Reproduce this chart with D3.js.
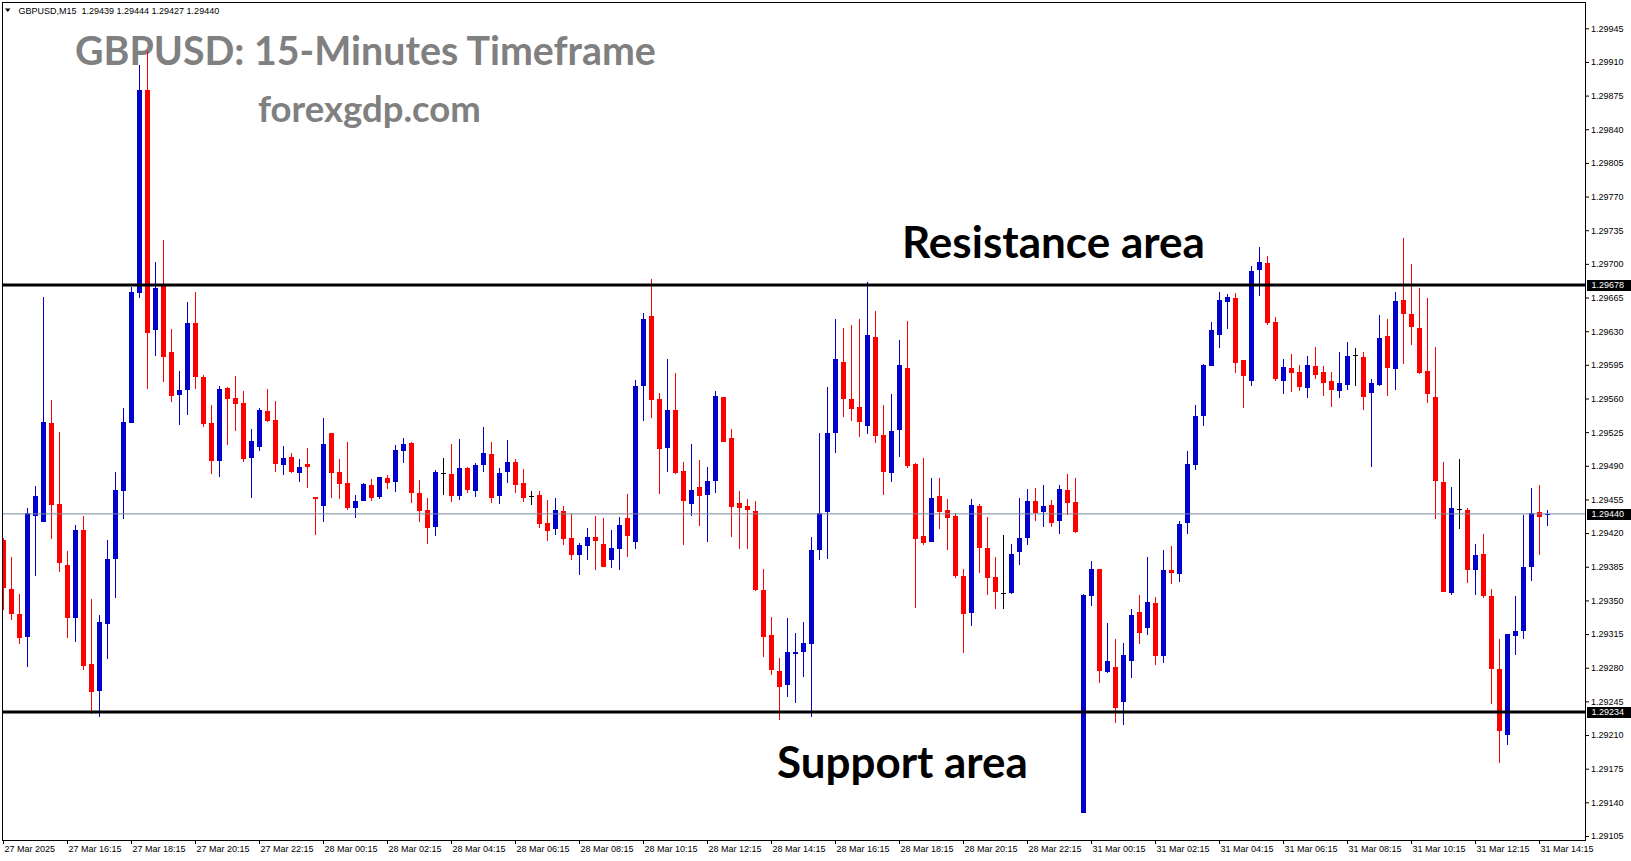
<!DOCTYPE html>
<html><head><meta charset="utf-8">
<script src="https://cdn.jsdelivr.net/npm/d3@7"></script>
<style>body{margin:0;background:#fff;overflow:hidden}svg{display:block}</style>
</head><body><svg id="c" width="1631" height="861"></svg>
<script>
// ---------- DATA (GBPUSD M15, 27 Mar 14:15 -> 31 Mar 14:30) ----------
const opens = [1.29413,1.29362,1.29336,1.29312,1.29438,1.29432,1.29534,1.29450,1.29387,1.29332,
1.29423,1.29284,1.29256,1.29325,1.29393,1.29464,1.29534,1.29670,1.29881,1.29631,
1.29677,1.29608,1.29564,1.29569,1.29638,1.29582,1.29535,1.29495,1.29571,1.29561,
1.29555,1.29498,1.29510,1.29547,1.29538,1.29491,1.29499,1.29483,1.29492,1.29458,
1.29448,1.29524,1.29484,1.29472,1.29446,1.29453,1.29470,1.29458,1.29477,1.29473,
1.29505,1.29514,1.29462,1.29444,1.29426,1.29482,1.29481,1.29459,1.29488,1.29464,
1.29491,1.29502,1.29459,1.29484,1.29494,1.29472,1.29459,1.29460,1.29431,1.29424,
1.29443,1.29415,1.29397,1.29407,1.29416,1.29409,1.29392,1.29403,1.29436,1.29411,
1.29573,1.29646,1.29559,1.29509,1.29548,1.29485,1.29450,1.29468,1.29460,1.29474,
1.29562,1.29519,1.29451,1.29448,1.29443,1.29361,1.29314,1.29277,1.29262,1.29294,
1.29296,1.29305,1.29402,1.29442,1.29524,1.29598,1.29559,1.29551,1.29531,1.29624,
1.29522,1.29483,1.29527,1.29592,1.29492,1.29417,1.29411,1.29459,1.29444,1.29438,
1.29375,1.29337,1.29448,1.29404,1.29374,1.29358,1.29358,1.29400,1.29415,1.29453,
1.29442,1.29449,1.29433,1.29465,1.29452,1.29129,1.29355,1.29383,1.29276,1.29281,
1.29244,1.29287,1.29338,1.29321,1.29347,1.29292,1.29382,1.29377,1.29430,1.29491,
1.29542,1.29594,1.29626,1.29660,1.29664,1.29600,1.29578,1.29694,1.29701,1.29640,
1.29578,1.29592,1.29588,1.29571,1.29594,1.29588,1.29578,1.29568,1.29574,1.29605,
1.29603,1.29566,1.29574,1.29625,1.29591,1.29662,1.29648,1.29633,1.29589,1.29562,
1.29473,1.29358,1.29445,1.29444,1.29382,1.29398,1.29355,1.29279,1.29210,1.29313,
1.29318,1.29385,1.29442,1.29439];
const highs = [1.29415,1.29395,1.29357,1.29446,1.29469,1.29666,1.29558,1.29525,1.29401,1.29428,
1.29438,1.29351,1.29335,1.29413,1.29484,1.29550,1.29676,1.29907,1.29921,1.29702,
1.29725,1.29632,1.29589,1.29660,1.29671,1.29584,1.29553,1.29573,1.29572,1.29583,
1.29568,1.29528,1.29550,1.29570,1.29557,1.29511,1.29503,1.29497,1.29508,1.29458,
1.29540,1.29524,1.29497,1.29515,1.29460,1.29472,1.29476,1.29478,1.29480,1.29512,
1.29519,1.29515,1.29475,1.29457,1.29486,1.29498,1.29513,1.29518,1.29489,1.29493,
1.29530,1.29515,1.29488,1.29517,1.29497,1.29487,1.29464,1.29464,1.29454,1.29456,
1.29448,1.29440,1.29410,1.29425,1.29438,1.29436,1.29423,1.29437,1.29461,1.29579,
1.29649,1.29684,1.29566,1.29601,1.29586,1.29494,1.29513,1.29496,1.29489,1.29568,
1.29562,1.29528,1.29464,1.29455,1.29453,1.29383,1.29333,1.29290,1.29332,1.29316,
1.29328,1.29416,1.29524,1.29572,1.29643,1.29633,1.29636,1.29643,1.29681,1.29651,
1.29553,1.29565,1.29621,1.29641,1.29493,1.29498,1.29477,1.29477,1.29455,1.29441,
1.29383,1.29455,1.29450,1.29437,1.29395,1.29418,1.29409,1.29456,1.29466,1.29467,
1.29470,1.29454,1.29470,1.29481,1.29477,1.29357,1.29391,1.29383,1.29327,1.29310,
1.29306,1.29341,1.29356,1.29395,1.29354,1.29402,1.29407,1.29433,1.29505,1.29553,
1.29596,1.29640,1.29671,1.29669,1.29670,1.29600,1.29698,1.29718,1.29708,1.29645,
1.29601,1.29606,1.29595,1.29604,1.29614,1.29594,1.29588,1.29608,1.29619,1.29613,
1.29608,1.29580,1.29647,1.29643,1.29671,1.29727,1.29700,1.29675,1.29664,1.29614,
1.29494,1.29468,1.29497,1.29446,1.29409,1.29419,1.29362,1.29310,1.29315,1.29355,
1.29439,1.29467,1.29470,1.29444];
const lows = [1.29340,1.29330,1.29305,1.29281,1.29375,1.29432,1.29414,1.29380,1.29311,1.29307,
1.29278,1.29232,1.29229,1.29289,1.29352,1.29435,1.29534,1.29664,1.29570,1.29604,
1.29577,1.29556,1.29532,1.29543,1.29570,1.29530,1.29481,1.29478,1.29512,1.29526,
1.29494,1.29457,1.29505,1.29536,1.29484,1.29480,1.29483,1.29473,1.29467,1.29418,
1.29432,1.29456,1.29455,1.29444,1.29436,1.29453,1.29453,1.29455,1.29466,1.29463,
1.29493,1.29451,1.29432,1.29409,1.29417,1.29460,1.29452,1.29454,1.29462,1.29458,
1.29484,1.29451,1.29450,1.29472,1.29462,1.29452,1.29449,1.29425,1.29412,1.29418,
1.29408,1.29392,1.29376,1.29392,1.29382,1.29385,1.29384,1.29382,1.29395,1.29403,
1.29537,1.29540,1.29461,1.29484,1.29481,1.29408,1.29438,1.29427,1.29411,1.29462,
1.29515,1.29416,1.29403,1.29403,1.29360,1.29291,1.29272,1.29226,1.29250,1.29243,
1.29270,1.29229,1.29392,1.29393,1.29503,1.29541,1.29537,1.29520,1.29523,1.29514,
1.29460,1.29473,1.29499,1.29488,1.29342,1.29408,1.29411,1.29424,1.29402,1.29373,
1.29295,1.29323,1.29378,1.29356,1.29341,1.29341,1.29357,1.29387,1.29408,1.29433,
1.29426,1.29426,1.29419,1.29439,1.29420,1.29129,1.29344,1.29264,1.29275,1.29223,
1.29220,1.29269,1.29305,1.29314,1.29283,1.29285,1.29367,1.29369,1.29419,1.29486,
1.29531,1.29594,1.29613,1.29632,1.29587,1.29550,1.29573,1.29667,1.29636,1.29578,
1.29565,1.29567,1.29568,1.29561,1.29580,1.29563,1.29551,1.29561,1.29569,1.29573,
1.29548,1.29489,1.29573,1.29563,1.29569,1.29596,1.29616,1.29585,1.29555,1.29435,
1.29359,1.29356,1.29424,1.29368,1.29356,1.29353,1.29242,1.29181,1.29200,1.29293,
1.29310,1.29370,1.29397,1.29427];
const closes = [1.29363,1.29336,1.29311,1.29441,1.29459,1.29536,1.29449,1.29389,1.29332,1.29423,
1.29282,1.29255,1.29328,1.29393,1.29465,1.29536,1.29671,1.29881,1.29628,1.29675,
1.29603,1.29563,1.29569,1.29638,1.29582,1.29533,1.29495,1.29570,1.29559,1.29554,
1.29497,1.29516,1.29548,1.29537,1.29492,1.29498,1.29484,1.29489,1.29489,1.29455,
1.29513,1.29483,1.29471,1.29446,1.29453,1.29471,1.29456,1.29478,1.29472,1.29506,
1.29513,1.29462,1.29443,1.29425,1.29484,1.29482,1.29459,1.29488,1.29465,1.29491,
1.29503,1.29456,1.29483,1.29494,1.29470,1.29457,1.29459,1.29429,1.29422,1.29444,
1.29414,1.29397,1.29408,1.29416,1.29412,1.29385,1.29404,1.29428,1.29417,1.29573,
1.29643,1.29558,1.29507,1.29548,1.29483,1.29453,1.29465,1.29459,1.29474,1.29563,
1.29515,1.29447,1.29446,1.29444,1.29361,1.29312,1.29278,1.29260,1.29296,1.29296,
1.29306,1.29402,1.29441,1.29524,1.29601,1.29559,1.29549,1.29536,1.29626,1.29521,
1.29484,1.29526,1.29595,1.29490,1.29414,1.29410,1.29457,1.29442,1.29436,1.29375,
1.29336,1.29449,1.29405,1.29373,1.29359,1.29358,1.29398,1.29415,1.29453,1.29441,
1.29448,1.29430,1.29466,1.29451,1.29421,1.29356,1.29383,1.29277,1.29287,1.29238,
1.29293,1.29335,1.29316,1.29348,1.29292,1.29382,1.29379,1.29429,1.29492,1.29542,
1.29595,1.29631,1.29662,1.29666,1.29597,1.29583,1.29693,1.29702,1.29638,1.29580,
1.29593,1.29587,1.29572,1.29595,1.29584,1.29576,1.29569,1.29576,1.29604,1.29605,
1.29562,1.29576,1.29623,1.29592,1.29661,1.29648,1.29634,1.29587,1.29565,1.29474,
1.29359,1.29446,1.29445,1.29382,1.29397,1.29355,1.29279,1.29214,1.29315,1.29318,
1.29385,1.29441,1.29437,1.29440];

const xTickLabels = ["27 Mar 2025","27 Mar 16:15","27 Mar 18:15","27 Mar 20:15","27 Mar 22:15",
"28 Mar 00:15","28 Mar 02:15","28 Mar 04:15","28 Mar 06:15","28 Mar 08:15","28 Mar 10:15",
"28 Mar 12:15","28 Mar 14:15","28 Mar 16:15","28 Mar 18:15","28 Mar 20:15","28 Mar 22:15",
"31 Mar 00:15","31 Mar 02:15","31 Mar 04:15","31 Mar 06:15","31 Mar 08:15","31 Mar 10:15",
"31 Mar 12:15","31 Mar 14:15"];
const xTickIndex = [0,8,16,24,32,40,48,56,64,72,80,88,96,104,112,120,128,136,144,152,160,168,176,184,192];
const yTickValues = [1.29105,1.29140,1.29175,1.29210,1.29245,1.29280,1.29315,1.29350,1.29385,1.29420,
1.29455,1.29490,1.29525,1.29560,1.29595,1.29630,1.29665,1.29700,1.29735,1.29770,1.29805,1.29840,
1.29875,1.29910,1.29945];
const yExtent = [1.290998, 1.299713];
const resistanceLevel = 1.29678;
const supportLevel = 1.29234;
const bidLevel = 1.29440;
const headerText = "GBPUSD,M15  1.29439 1.29444 1.29427 1.29440";

// ---------- DRAW ----------
const W = 1631, H = 861;
const P = {left: 2.5, right: 1585.5, top: 2.5, bottom: 840.5};
const svg = d3.select('#c');
svg.append('rect').attr('width', W).attr('height', H).attr('fill', '#fff');

const n = opens.length;
const x = d3.scaleBand().domain(d3.range(n)).range([-0.5, -0.5 + 8 * n]).paddingInner(0).paddingOuter(0);
const y = d3.scaleLinear().domain(yExtent).range([841, 3]);
const cx = i => x(i) + x.bandwidth() / 2;

const AX = '"Liberation Sans", Arial, sans-serif';
const BIG = 'Lato, "Open Sans", sans-serif';

// header
svg.append('path').attr('d', 'M5,8.5 L10.5,8.5 L7.75,12 Z').attr('fill', '#000');
svg.append('text').attr('x', 18.5).attr('y', 13.5).attr('font-family', AX).attr('font-size', 9)
  .style('white-space', 'pre').attr('fill', '#000').text(headerText);

// overlay texts
function bigText(str, x0, base, targetW, color){
  const t = svg.append('text').attr('x', x0).attr('y', base).attr('font-family', BIG)
    .attr('font-weight', 700).attr('font-size', 40).attr('fill', color).text(str);
  const w = t.node().getComputedTextLength();
  t.attr('font-size', 40 * targetW / w);
  return t;
}
bigText('GBPUSD: 15-Minutes Timeframe', 75, 65, 581, '#808080');
bigText('forexgdp.com', 258, 122, 223, '#808080');
bigText('Resistance area', 902, 257.5, 303, '#000');
bigText('Support area', 777, 777.5, 251, '#000');

// candles
svg.append('clipPath').attr('id', 'clip').append('rect')
  .attr('x', 3).attr('y', 3).attr('width', 1582).attr('height', 837);
const g = svg.append('g').attr('clip-path', 'url(#clip)');
const data = d3.range(n).map(i => ({i, o: opens[i], h: highs[i], l: lows[i], c: closes[i]}));
const col = d => d.c > d.o ? '#0000cd' : (d.c < d.o ? '#ff0000' : '#000');
const cg = g.selectAll('g.c').data(data).join('g').attr('class', 'c');
cg.append('rect')
  .attr('x', d => cx(d.i) - 0.5).attr('width', 1)
  .attr('y', d => Math.round(y(d.h)))
  .attr('height', d => Math.max(1, Math.round(y(d.l)) - Math.round(y(d.h))))
  .attr('fill', col);
cg.append('rect')
  .attr('x', d => cx(d.i) - 2.5).attr('width', 5)
  .attr('y', d => Math.round(y(Math.max(d.o, d.c))))
  .attr('height', d => Math.max(1, Math.round(y(Math.min(d.o, d.c))) - Math.round(y(Math.max(d.o, d.c)))))
  .attr('fill', col);

// horizontal levels
g.append('line').attr('x1', P.left).attr('x2', P.right).attr('y1', y(bidLevel)).attr('y2', y(bidLevel))
  .attr('stroke', '#778899').attr('stroke-width', 1);
[resistanceLevel, supportLevel].forEach(v => {
  g.append('line').attr('x1', P.left).attr('x2', P.right).attr('y1', y(v)).attr('y2', y(v))
    .attr('stroke', '#000').attr('stroke-width', 3);
});

// frame
svg.append('rect').attr('x', P.left).attr('y', P.top).attr('width', P.right - P.left)
  .attr('height', P.bottom - P.top).attr('fill', 'none').attr('stroke', '#000').attr('stroke-width', 1);

// axes
const yAxis = d3.axisRight(y).tickValues(yTickValues).tickFormat(d3.format('.5f')).tickSize(4).tickPadding(2);
const ya = svg.append('g').attr('transform', `translate(${P.right - 0.5},0)`).call(yAxis);
ya.select('.domain').remove();
ya.selectAll('text').attr('font-family', AX).attr('font-size', 9).attr('fill', '#000');
ya.selectAll('line').attr('stroke', '#000');

const xAxis = d3.axisBottom(x).tickValues(xTickIndex).tickFormat((d, k) => xTickLabels[k]).tickSize(4).tickPadding(2);
const xa = svg.append('g').attr('transform', `translate(0,${P.bottom - 0.5})`).call(xAxis);
xa.select('.domain').remove();
xa.selectAll('text').attr('font-family', AX).attr('font-size', 9).attr('fill', '#000')
  .attr('text-anchor', 'start').attr('x', 1);
xa.selectAll('line').attr('stroke', '#000');

// highlighted price labels
[resistanceLevel, supportLevel, bidLevel].forEach(v => {
  const yy = Math.round(y(v));
  svg.append('rect').attr('x', 1587).attr('y', yy - 5).attr('width', 44).attr('height', 11).attr('fill', '#000');
  svg.append('text').attr('x', 1591.5).attr('y', yy + 0.5).attr('dy', '0.32em')
    .attr('font-family', AX).attr('font-size', 9).attr('fill', '#fff').text(d3.format('.5f')(v));
});
</script>
</body></html>
